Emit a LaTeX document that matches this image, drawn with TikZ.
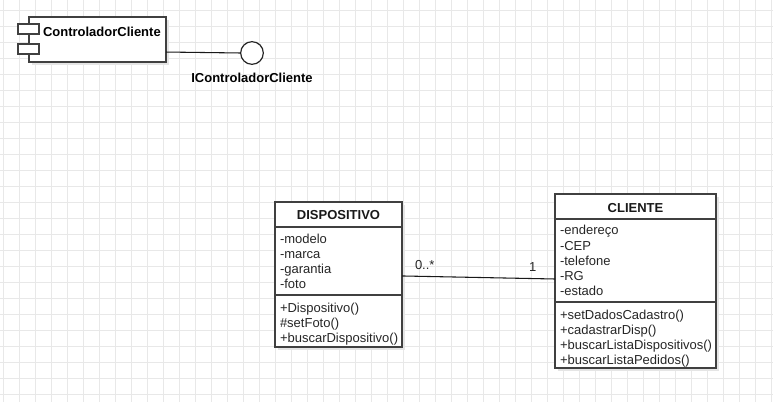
\documentclass[tikz,border=0pt]{standalone}
\usepackage{fontspec}
\setmainfont{Liberation Sans}
\begin{document}
\begin{tikzpicture}[x=0.75pt,y=-0.75pt,
  every node/.style={font=\fontsize{9.75}{11}\selectfont, inner sep=0pt, outer sep=0pt},
  box/.style={draw=black!75, line width=0.9pt, fill=white, anchor=north west},
  shadowbox/.style={fill=black!10, draw=none, anchor=north west},
  txt/.style={anchor=base west, text=black!85, yshift=-1.5pt},
  head/.style={anchor=base, font=\fontsize{9.75}{11}\selectfont\bfseries, text=black!90, yshift=-1.5pt},
  divider/.style={draw=black!75, line width=0.9pt},
  conn/.style={draw=black!90, line width=0.8pt},
  gridline/.style={draw=black!9, line width=0.6pt}]
\useasboundingbox (0,0) rectangle (773,402);
\fill[white] (0,0) rectangle (773,402);
% grid
\foreach \gx in {3,19,...,771} {\draw[gridline] (\gx,0) -- (\gx,402);}
\foreach \gy in {10,26,...,400} {\draw[gridline] (0,\gy) -- (773,\gy);}

% component
\node[shadowbox, minimum width=102.75pt, minimum height=33.75pt] (compsh) at (32,20) {};
\node[box, minimum width=102.75pt, minimum height=33.75pt] (comp) at (29,17) {};
\node[box, minimum width=15.75pt, minimum height=7.5pt] (port1) at (18,24) {};
\node[box, minimum width=15.75pt, minimum height=7.5pt] (port2) at (18,44) {};
\node[anchor=base west, font=\fontsize{9.75}{11}\selectfont\bfseries, yshift=-1.5pt] (compname) at (43,35) {ControladorCliente};
\node[circle, draw=black!85, line width=0.9pt, fill=white, minimum size=17pt] (iface) at (252,53) {};
\draw[conn] ([yshift=-9.4pt]comp.east) -- (iface.west);
\node[anchor=base, font=\fontsize{9.75}{11}\selectfont\bfseries, yshift=-1.5pt] (ifacename) at (252,81) {IControladorCliente};

% DISPOSITIVO
\node[shadowbox, minimum width=95.25pt, minimum height=108.75pt] (dispsh) at (278,205) {};
\node[box, minimum width=95.25pt, minimum height=108.75pt] (disp) at (275,202) {};
\draw[divider] (275,227) -- (402,227);
\draw[divider] (275,295) -- (402,295);
\node[head] (disph) at (338.5,218) {DISPOSITIVO};
\node[txt] (d1) at (280,242) {-modelo};
\node[txt] (d2) at (280,256) {-marca};
\node[txt] (d3) at (280,271) {-garantia};
\node[txt] (d4) at (280,286) {-foto};
\node[txt] (d5) at (280,310) {+Dispositivo()};
\node[txt] (d6) at (280,325) {\#setFoto()};
\node[txt] (d7) at (280,340) {+buscarDispositivo()};

% CLIENTE
\node[shadowbox, minimum width=120.75pt, minimum height=130.5pt] (clish) at (558,197) {};
\node[box, minimum width=120.75pt, minimum height=130.5pt] (cli) at (555,194) {};
\draw[divider] (555,219) -- (716,219);
\draw[divider] (555,302) -- (716,302);
\node[head] (clih) at (635.5,211) {CLIENTE};
\node[txt] (c1) at (560,233) {-endereço};
\node[txt] (c2) at (560,249) {-CEP};
\node[txt] (c3) at (560,264) {-telefone};
\node[txt] (c4) at (560,279) {-RG};
\node[txt] (c5) at (560,294) {-estado};
\node[txt] (c6) at (560,317) {+setDadosCadastro()};
\node[txt] (c7) at (560,332) {+cadastrarDisp()};
\node[txt] (c8) at (560,347) {+buscarListaDispositivos()};
\node[txt] (c9) at (560,362) {+buscarListaPedidos()};

% association
\draw[conn] ([yshift=-1.1pt]disp.east) -- ([yshift=1.5pt]cli.west);
\node[txt] (m1) at (415,267) {0..*};
\node[txt] (m2) at (529,270) {1};
\end{tikzpicture}
\end{document}
